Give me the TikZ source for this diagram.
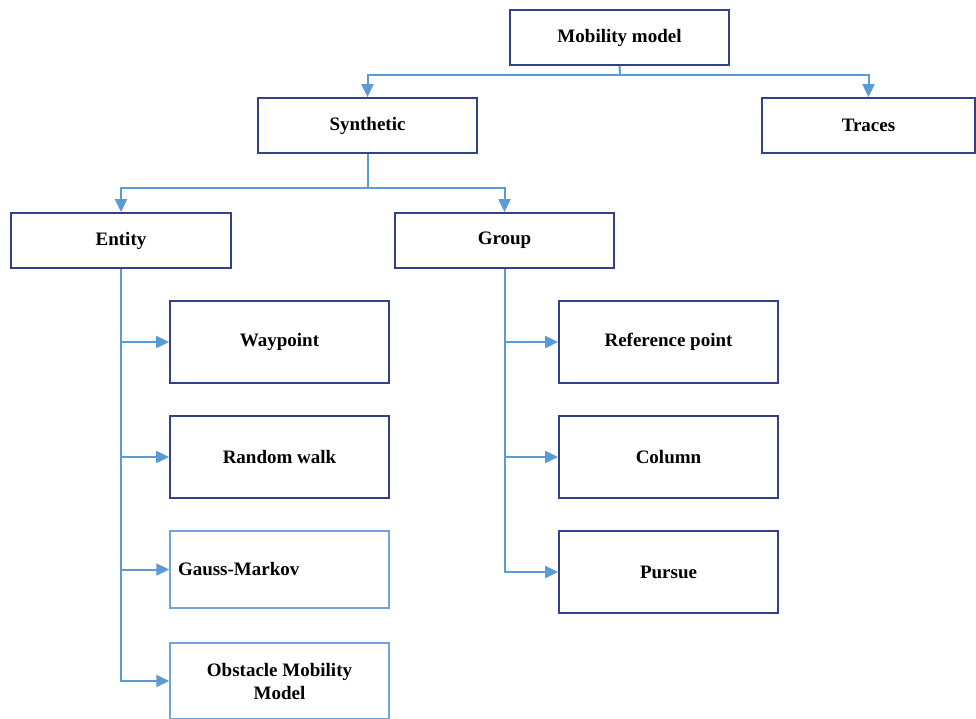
\documentclass[tikz,border=0pt]{standalone}
\usepackage{fontspec}
\setmainfont{Liberation Serif}
\usetikzlibrary{arrows.meta}
\definecolor{wireblue}{HTML}{5B9BD5}
\definecolor{boxnavy}{HTML}{33408A}
\definecolor{boxlight}{HTML}{74A3D8}
\begin{document}
\begin{tikzpicture}[x=1pt,y=-1pt,
  box/.style={draw=boxnavy, line width=1.8pt, fill=white, inner sep=8pt,
    font=\fontsize{19}{23}\selectfont\bfseries, align=center},
  lightbox/.style={box, draw=boxlight, line width=1.5pt},
  wire/.style={draw=wireblue, line width=2pt},
  feed/.style={wire, -{Triangle[length=13pt,width=12pt]}, color=wireblue}]
\useasboundingbox (0,0) rectangle (976,718);
\fill[white] (0,0) rectangle (976,718);
\clip (0,0) rectangle (976,718);

% top levels
\node[box, minimum width=219pt, minimum height=55pt] (mm)  at (619.5,37.5)  {Mobility model};
\node[box, minimum width=219pt, minimum height=55pt] (syn) at (367.5,125.5) {Synthetic};
\node[box, minimum width=213pt, minimum height=55pt] (trc) at (868.5,125.5) {Traces};
\node[box, minimum width=220pt, minimum height=55pt] (ent) at (121,240.5)   {Entity};
\node[box, minimum width=219pt, minimum height=55pt] (grp) at (504.5,240.5) {Group};

% entity models
\node[box, minimum width=219pt, minimum height=82pt] (wp) at (279.5,342) {Waypoint};
\node[box, minimum width=219pt, minimum height=82pt] (rw) at (279.5,457) {Random walk};
\node[lightbox, minimum width=219pt, minimum height=77pt, text width=203pt, align=left] (gm) at (279.5,569.5) {Gauss-Markov};
\node[lightbox, minimum width=219pt, minimum height=76pt] (om) at (279.5,681) {Obstacle Mobility\\Model};

% group models
\node[box, minimum width=219pt, minimum height=82pt] (rp) at (668.5,342) {Reference point};
\node[box, minimum width=219pt, minimum height=82pt] (col) at (668.5,457) {Column};
\node[box, minimum width=219pt, minimum height=82pt] (pur) at (668.5,572) {Pursue};

% first split
\coordinate (bus1) at (620,75);
\draw[wire] (mm.south) -- (bus1);
\draw[feed] (bus1) -| (syn.north);
\draw[feed] (bus1) -| (trc.north);

% second split
\coordinate (bus2) at (367.5,188);
\draw[wire] (syn.south) -- (bus2);
\draw[feed] (bus2) -| (ent.north);
\draw[feed] (bus2) -| (grp.north);

% entity branch
\draw[feed] (ent.south) |- (wp.west);
\draw[feed] (ent.south) |- (rw.west);
\draw[feed] (ent.south) |- (gm.west);
\draw[feed] (ent.south) |- (om.west);

% group branch
\draw[feed] (grp.south) |- (rp.west);
\draw[feed] (grp.south) |- (col.west);
\draw[feed] (grp.south) |- (pur.west);
\end{tikzpicture}
\end{document}
